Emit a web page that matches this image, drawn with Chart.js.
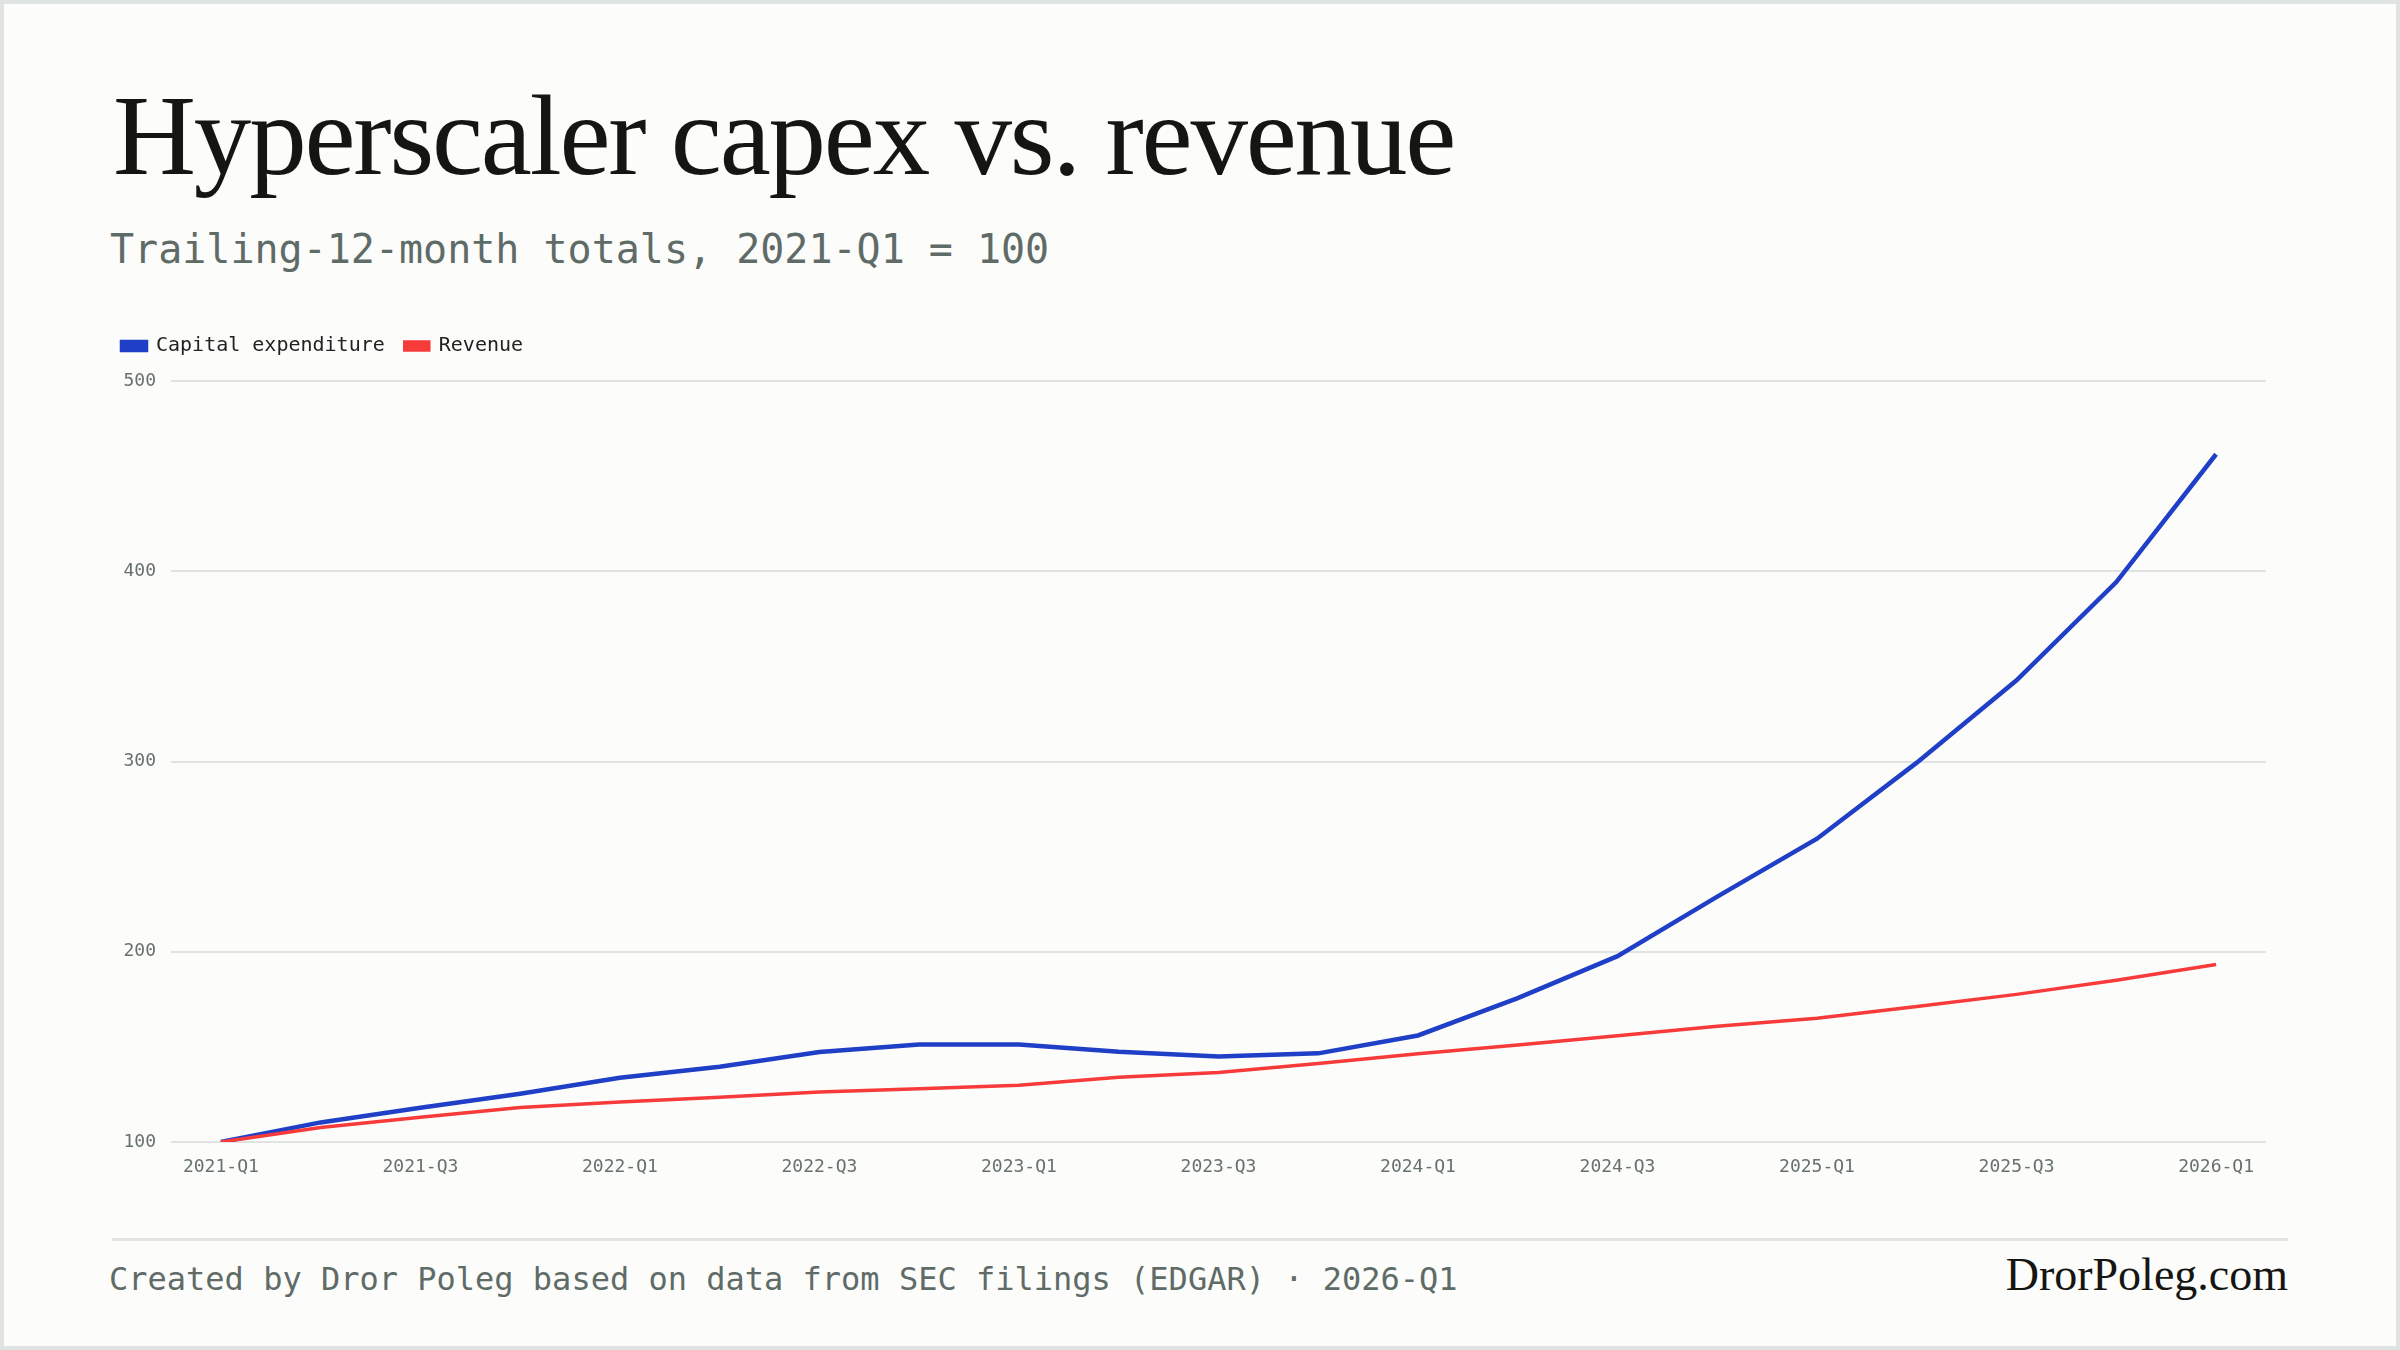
<!DOCTYPE html>
<html>
<head>
<meta charset="utf-8">
<script src="https://cdn.jsdelivr.net/npm/chart.js@4.4.1/dist/chart.umd.min.js"></script>
<style>
  html, body { margin: 0; padding: 0; }
  #page {
    position: relative; width: 2400px; height: 1350px; overflow: hidden;
    background: #fcfcfb; box-shadow: inset 0 0 0 4px #dfe3e1;
  }
  .abs { position: absolute; white-space: nowrap; line-height: 1; }
  #title { left: 113px; top: 78px; font-family: "Liberation Serif", serif; font-size: 115px; letter-spacing: -2.2px; color: #151512; }
  #subtitle { left: 110px; top: 229px; font-family: "DejaVu Sans Mono", monospace; font-size: 40px; color: #5f6b67; }
  #rule { left: 112px; top: 1238px; width: 2176px; height: 3px; background: #e0e4e2; }
  #source { left: 109px; top: 1263px; font-family: "DejaVu Sans Mono", monospace; font-size: 32px; color: #5f6b67; }
  #brand { right: 112px; top: 1252px; font-family: "Liberation Serif", serif; font-size: 46px; color: #151512; }
  #chartBox { position: absolute; left: 102px; top: 316px; width: 2167px; height: 863px; }
</style>
</head>
<body>
<div id="page">
  <div class="abs" id="title">Hyperscaler capex vs. revenue</div>
  <div class="abs" id="subtitle">Trailing-12-month totals, 2021-Q1 = 100</div>
  <div id="chartBox"><canvas id="grafica"></canvas></div>
  <div class="abs" id="rule"></div>
  <div class="abs" id="source">Created by Dror Poleg based on data from SEC filings (EDGAR) · 2026-Q1</div>
  <div class="abs" id="brand">DrorPoleg.com</div>
</div>
<script>
// Trimestres (eje x)
var quarters = ["2021-Q1", "2021-Q2", "2021-Q3", "2021-Q4",
                "2022-Q1", "2022-Q2", "2022-Q3", "2022-Q4",
                "2023-Q1", "2023-Q2", "2023-Q3", "2023-Q4",
                "2024-Q1", "2024-Q2", "2024-Q3", "2024-Q4",
                "2025-Q1", "2025-Q2", "2025-Q3", "2025-Q4",
                "2026-Q1"];
// Indices TTM, 2021-Q1 = 100
var capex = [100, 110.3, 118, 125.4, 133.8, 139.6, 147.3, 151.3, 151.3, 147.5, 144.9,
             146.6, 156, 175.6, 197.7, 229, 259.4, 299.4, 342.7, 394.3, 461.5];
var revenue = [100, 107.6, 113, 118.1, 121, 123.5, 126.3, 128, 129.8, 134, 136.5,
               141.3, 146.4, 151, 155.8, 160.9, 165, 171.2, 177.6, 185, 193.3];
var yTicks = [100, 200, 300, 400, 500];

var mono = "'DejaVu Sans Mono', monospace";
var tickColor = "#66716d";

// un poco de aire debajo de la leyenda
var legendMargin = {
  id: "legendMargin",
  beforeInit: function (chart) {
    var fitOrig = chart.legend.fit;
    chart.legend.fit = function () {
      fitOrig.bind(chart.legend)();
      this.height += 15;
    };
  }
};

var ctx = document.getElementById("grafica").getContext("2d");
var grafica = new Chart(ctx, {
  type: "line",
  data: {
    labels: quarters,
    datasets: [{
      label: "Capital expenditure",
      data: capex,
      borderColor: "#1f3fc6",
      backgroundColor: "#1f3fc6",
      borderWidth: 4.5,
      pointRadius: 0,
      tension: 0,
      order: 1
    }, {
      label: "Revenue",
      data: revenue,
      borderColor: "#f73b3b",
      backgroundColor: "#f73b3b",
      borderWidth: 3.5,
      pointRadius: 0,
      tension: 0,
      order: 0
    }]
  },
  options: {
    responsive: true,
    maintainAspectRatio: false,
    animation: false,
    layout: { padding: 0 },
    plugins: {
      tooltip: { enabled: false },
      legend: {
        position: "top",
        align: "start",
        labels: {
          boxWidth: 24,
          boxHeight: 8,
          padding: 20,
          color: "#222222",
          font: { family: mono, size: 20 },
          sort: function (a, b) { return a.datasetIndex - b.datasetIndex; }
        }
      }
    },
    scales: {
      x: {
        offset: true,
        afterFit: function (scale) { scale.height = 37; },
        grid: { display: false, drawTicks: false },
        border: { display: false },
        ticks: {
          autoSkip: false,
          maxRotation: 0,
          padding: 15,
          color: tickColor,
          font: { family: mono, size: 18 },
          callback: function (v, i) { return i % 2 === 0 ? quarters[i] : ""; }
        }
      },
      y: {
        min: yTicks[0],
        max: yTicks[yTicks.length - 1],
        afterFit: function (scale) { scale.width = 69; },
        afterBuildTicks: function (scale) {
          scale.ticks = yTicks.map(function (v) { return { value: v }; });
        },
        grid: { color: "#dfe3e1", lineWidth: 2, drawTicks: false },
        border: { display: false },
        ticks: {
          padding: 15,
          color: tickColor,
          font: { family: mono, size: 18 }
        }
      }
    }
  },
  plugins: [legendMargin]
});
</script>
</body>
</html>
